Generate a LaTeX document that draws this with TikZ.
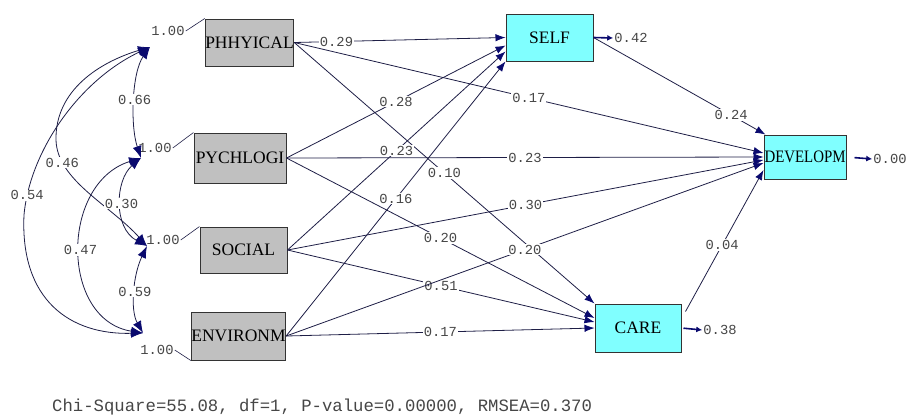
\documentclass[tikz,border=0pt]{standalone}
\usepackage{fontspec}
\setmainfont{Liberation Serif}
\newfontfamily\monofont{Liberation Mono}
\usetikzlibrary{arrows.meta}
\definecolor{boxgray}{RGB}{192,192,192}
\definecolor{boxcyan}{RGB}{128,255,255}
\definecolor{linenavy}{RGB}{30,30,70}
\definecolor{tipnavy}{RGB}{10,10,110}
\definecolor{numgray}{RGB}{70,70,70}

\begin{document}
\begin{tikzpicture}[x=1pt,y=-1pt,
  obs/.style={draw=black!80,line width=1pt,inner sep=0pt,font=\fontsize{17.5}{20}\selectfont},
  exo/.style={obs,fill=boxgray},
  endo/.style={obs,fill=boxcyan},
  lbl/.style={font=\monofont\fontsize{13.8}{15}\selectfont,text=numgray,fill=white,inner sep=1pt},
  eff/.style={draw=linenavy,line width=.8pt,-{Latex[length=10pt,width=7.5pt,color=tipnavy]}},
  corr/.style={draw=linenavy,line width=.8pt,{Latex[length=12pt,width=9pt,color=tipnavy]}-{Latex[length=12pt,width=9pt,color=tipnavy]}},
  errarr/.style={draw=tipnavy,line width=1.6pt,-{Latex[length=6pt,width=6pt]}}]
        \useasboundingbox (0,0) rectangle (909,416);
        \node[exo,minimum width=85pt,minimum height=47pt] (phy) at (249.5,42.5) {PHHYICAL};
        \node[exo,minimum width=92pt,minimum height=50pt] (psy) at (240,158) {PYCHLOGI};
        \node[exo,minimum width=87pt,minimum height=46pt] (soc) at (243.5,250) {SOCIAL};
        \node[exo,minimum width=87pt,minimum height=48pt] (env) at (238.5,336) {ENVIRONM};
        \node[endo,minimum width=87pt,minimum height=47pt] (self) at (549.5,37.5) {SELF};
        \node[endo,minimum width=86pt,minimum height=48pt] (care) at (638,328) {CARE};
        \node[endo,minimum width=82pt,minimum height=44pt] (dev) at (805,157) {\scalebox{0.85}[1]{DEVELOPM}};
        \node[lbl] (v1) at (168,31) {1.00};
        \node[lbl] (v2) at (155,148) {1.00};
        \node[lbl] (v3) at (163,240) {1.00};
        \node[lbl] (v4) at (157,350) {1.00};
        \draw[linenavy,line width=.6pt] (v1.east) -- (phy.north west);
        \draw[linenavy,line width=.6pt] (v2.east) -- (psy.north west);
        \draw[linenavy,line width=.6pt] (v3.east) -- (soc.north west);
        \draw[linenavy,line width=.6pt] (v4.east) -- (env.south west);
        \coordinate (phyv) at (150,47);
        \coordinate (psyv) at (141,158);
        \coordinate (socv) at (147,246);
        \coordinate (envv) at (143,333);
        \draw[corr] (phyv) .. controls (132,72) and (130,125) .. (psyv) node[lbl,pos=.5] {0.66};
        \draw[corr] (phyv) .. controls (80,80) and (30,150) .. (24,215) node[lbl,pos=.9] {0.54} .. controls (20,300) and (70,335) .. (envv);
        \draw[corr] (phyv) .. controls (100,62) and (55,90) .. (56,140) .. controls (57,180) and (110,205) .. (socv) node[lbl,pos=.2] {0.46};
        \draw[corr] (psyv) .. controls (115,180) and (113,228) .. (socv) node[lbl,pos=.5] {0.30};
        \draw[corr] (psyv) .. controls (60,183) and (60,320) .. (envv) node[lbl,pos=.5] {0.47};
        \draw[corr] (socv) .. controls (133,275) and (130,310) .. (envv) node[lbl,pos=.5] {0.59};
        \draw[eff] (phy.east) -- (self.west) node[lbl,pos=.2] {0.29};
        \draw[eff] (phy.east) -- ([yshift=4pt]dev.west) node[lbl,pos=.5] {0.17};
        \draw[eff] (phy.east) -- (care.north west) node[lbl,pos=.5] {0.10};
        \draw[eff] (psy.east) -- ([yshift=-8pt]self.west) node[lbl,pos=.5] {0.28};
        \draw[eff] (psy.east) -- (dev.west) node[lbl,pos=.5] {0.23};
        \draw[eff] (psy.east) -- ([yshift=10pt]care.west) node[lbl,pos=.5] {0.20};
        \draw[eff] (soc.east) -- ([yshift=-14pt]self.west) node[lbl,pos=.5] {0.23};
        \draw[eff] (soc.east) -- ([yshift=-3pt]dev.west) node[lbl,pos=.5] {0.30};
        \draw[eff] (soc.east) -- ([yshift=6pt]care.west) node[lbl,pos=.5] {0.51};
        \draw[eff] (env.east) -- (self.south west) node[lbl,pos=.5] {0.16};
        \draw[eff] (env.east) -- ([yshift=-6pt]dev.west) node[lbl,pos=.5] {0.20};
        \draw[eff] (env.east) -- (care.west) node[lbl,pos=.5] {0.17};
        \draw[eff] (self.east) -- ([xshift=2pt]dev.north west) node[lbl,pos=.8] {0.24};
        \draw[eff] ([xshift=4pt,yshift=-8pt]care.north east) -- ([yshift=-13pt]dev.west) node[lbl,pos=.47] {0.04};
        \node[lbl] (selfe) at (631,38) {0.42};
        \node[lbl] (caree) at (720,330) {0.38};
        \node[lbl] (deve) at (890,159) {0.00};
        \draw[errarr] (self.east) -- (selfe.west);
        \draw[errarr,shorten <=2pt] (care.east) -- (caree.west);
        \draw[errarr,shorten <=8pt] (dev.east) -- (deve.west);
        \node[anchor=west,inner sep=0pt,text=numgray,font=\monofont\fontsize{17.3}{20}\selectfont] (fit) at (52,407) {Chi-Square=55.08, df=1, P-value=0.00000, RMSEA=0.370};
\end{tikzpicture}
\end{document}
